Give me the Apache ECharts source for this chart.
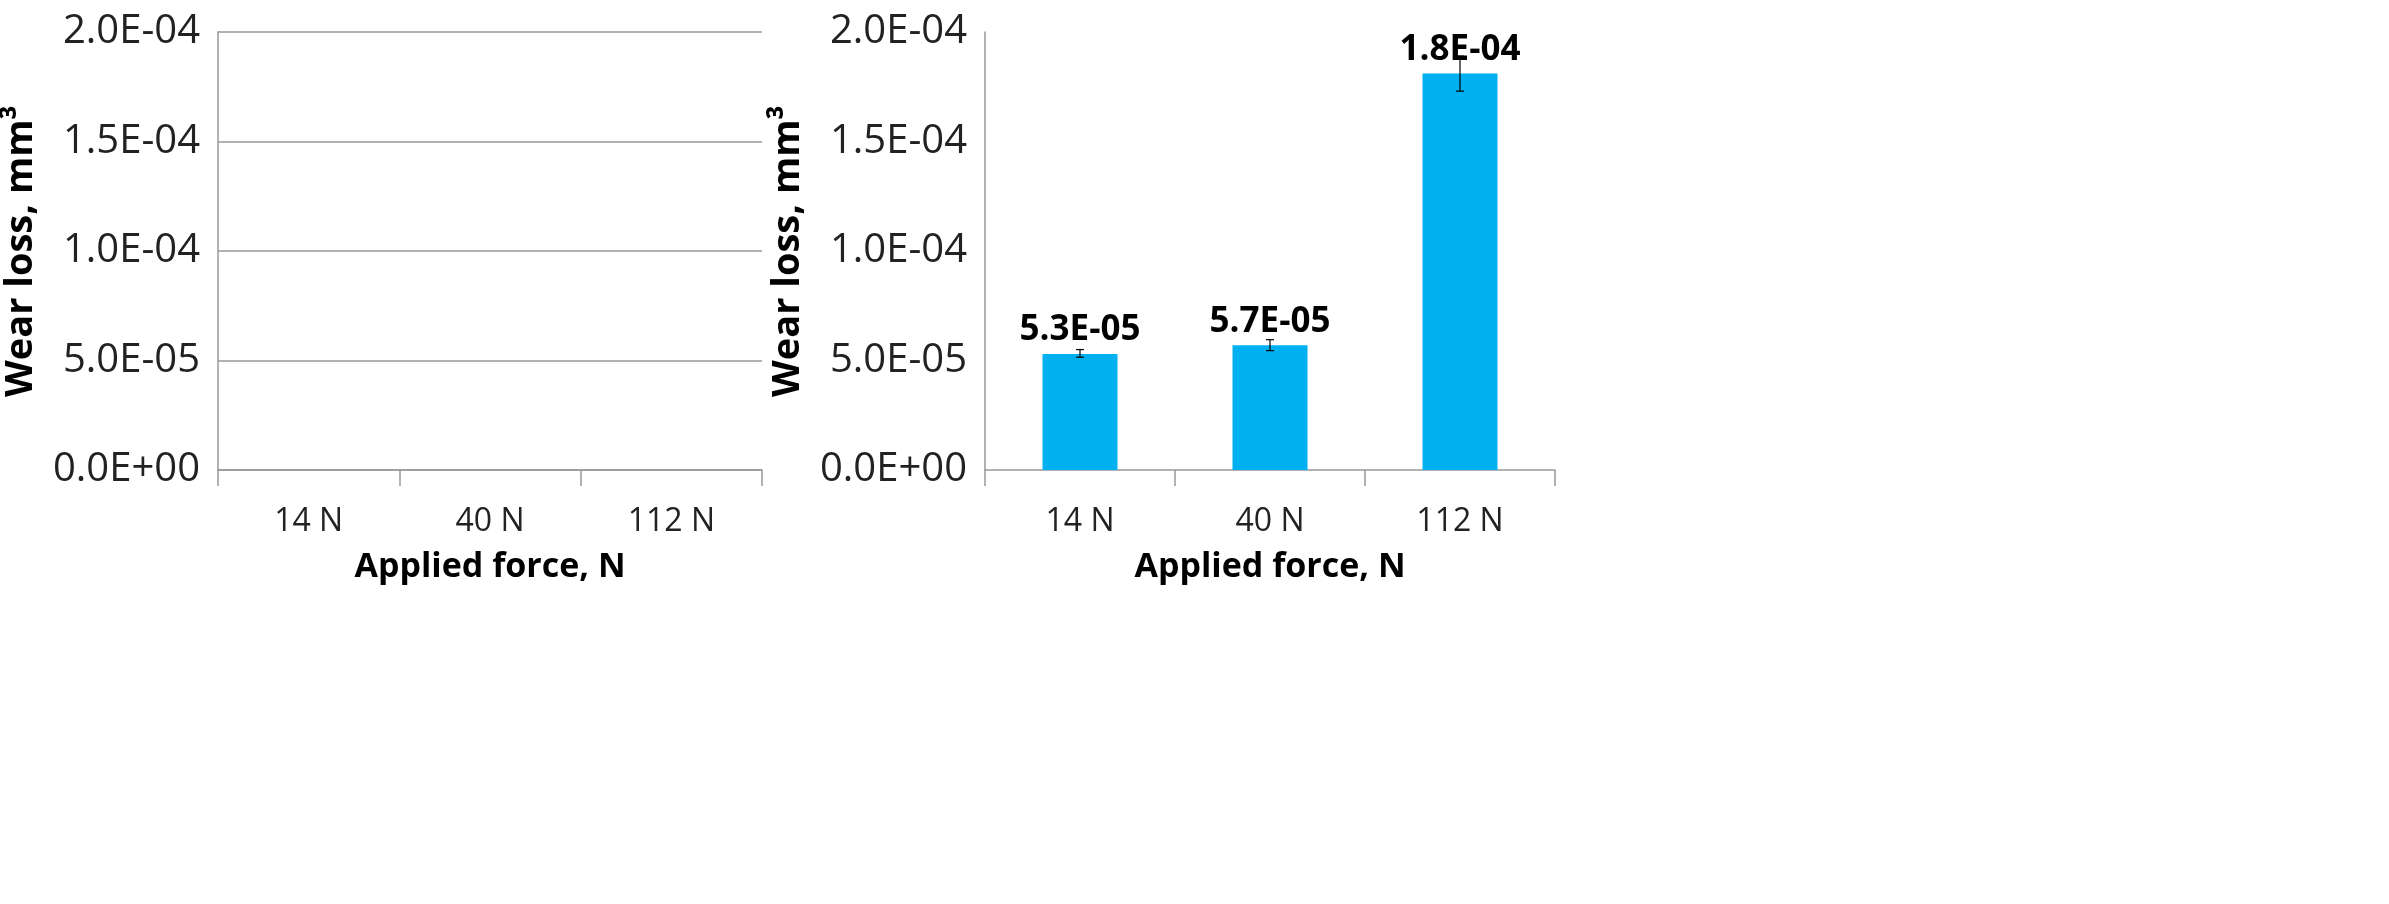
<!DOCTYPE html>
<html><head><meta charset="utf-8">
<script src="https://cdn.jsdelivr.net/npm/echarts@6/dist/echarts.min.js"></script>
<style>html,body{margin:0;background:#fff}#c{width:2389px;height:904px}</style>
</head><body><div id="c"></div>
<script>
var categories = ['14 N', '40 N', '112 N'];
var wearLoss = [5.3e-5, 5.7e-5, 1.81e-4];
var errLow = [5.15e-5, 5.45e-5, 1.73e-4];
var errHigh = [5.5e-5, 5.95e-5, 1.89e-4];
var labels = ['5.3E-05', '5.7E-05', '1.8E-04'];

var font = '"Open Sans", sans-serif';
function fmt(v) {
  if (v === 0) return '0.0E+00';
  var e = Math.floor(Math.log10(v) + 1e-9);
  var m = v / Math.pow(10, e);
  return m.toFixed(1) + 'E' + (e < 0 ? '-' : '+') + String(Math.abs(e)).padStart(2, '0');
}
function yAxis(idx, grid) {
  return {
    gridIndex: idx, type: 'value', min: 0, max: 2e-4, interval: 5e-5,
    name: 'Wear loss, mm³', nameLocation: 'middle', nameGap: 178,
    nameTextStyle: {fontFamily: font, fontSize: 38, fontWeight: 'bold', color: '#000'},
    axisLine: {show: true, lineStyle: {color: '#999', width: 1.5}},
    axisTick: {show: false},
    axisLabel: {formatter: fmt, fontFamily: font, fontSize: 40, color: '#222', margin: 18},
    splitLine: {show: grid, lineStyle: {color: '#999', width: 1.5}}
  };
}
function xAxis(idx) {
  return {
    gridIndex: idx, type: 'category', data: categories,
    name: 'Applied force, N', nameLocation: 'middle', nameGap: 80,
    nameTextStyle: {fontFamily: font, fontSize: 34, fontWeight: 'bold', color: '#000'},
    axisLine: {lineStyle: {color: '#999', width: 1.5}},
    axisTick: {show: true, length: 16, lineStyle: {color: '#999', width: 1.5}},
    axisLabel: {fontFamily: font, fontSize: 32, color: '#222', margin: 36}
  };
}
var chart = echarts.init(document.getElementById('c'));
chart.setOption({
  animation: false,
  grid: [
    {left: 218, top: 32, width: 544, height: 438},
    {left: 985, top: 32, width: 570, height: 438}
  ],
  xAxis: [xAxis(0), xAxis(1)],
  yAxis: [yAxis(0, true), yAxis(1, false)],
  series: [
    {type: 'bar', xAxisIndex: 0, yAxisIndex: 0, data: []},
    {
      type: 'bar', xAxisIndex: 1, yAxisIndex: 1, data: wearLoss, barWidth: 75,
      itemStyle: {color: '#00b0f0'},
      label: {show: true, position: 'top', distance: 6,
        formatter: function (p) { return labels[p.dataIndex]; },
        fontFamily: font, fontSize: 35, fontWeight: 'bold', color: '#000'}
    },
    {
      type: 'custom', xAxisIndex: 1, yAxisIndex: 1, z: 10,
      data: categories.map(function (c, i) { return [i, errLow[i], errHigh[i]]; }),
      renderItem: function (params, api) {
        var lo = api.coord([api.value(0), api.value(1)]);
        var hi = api.coord([api.value(0), api.value(2)]);
        var s = {stroke: '#000', lineWidth: 1.2};
        return {type: 'group', children: [
          {type: 'line', shape: {x1: lo[0], y1: lo[1], x2: hi[0], y2: hi[1]}, style: s},
          {type: 'line', shape: {x1: lo[0] - 4, y1: lo[1], x2: lo[0] + 4, y2: lo[1]}, style: s},
          {type: 'line', shape: {x1: hi[0] - 4, y1: hi[1], x2: hi[0] + 4, y2: hi[1]}, style: s}
        ]};
      }
    }
  ]
});
</script></body></html>
